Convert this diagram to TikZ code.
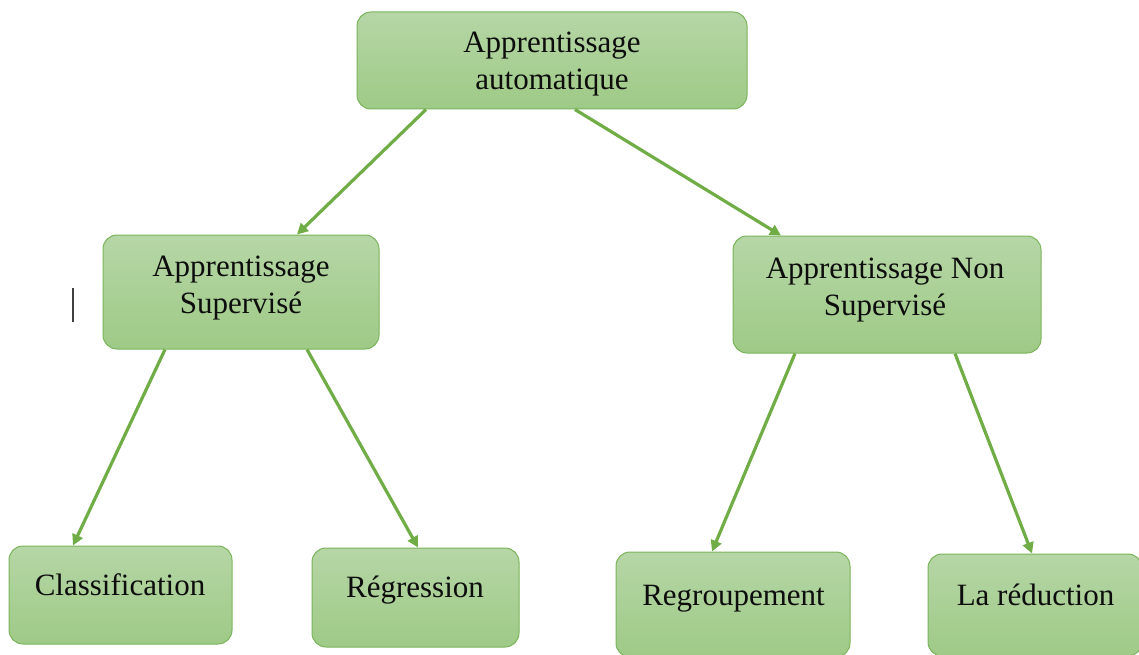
\documentclass[tikz,border=0pt]{standalone}
\usepackage{fontspec}
\setmainfont{Liberation Serif}
\usetikzlibrary{arrows.meta}
\definecolor{gtop}{RGB}{182,214,166}
\definecolor{gbot}{RGB}{158,202,134}
\definecolor{gline}{RGB}{122,180,90}
\definecolor{garrow}{RGB}{112,173,71}
\tikzset{
  box/.style={draw=gline, line width=1pt, rounded corners=14pt, top color=gtop, bottom color=gbot, inner sep=0pt},
  lbl/.style={font=\fontsize{31}{37}\selectfont, text=black!95, align=center, anchor=base, inner sep=0pt},
  arr/.style={draw=garrow, line width=3.2pt, -{Triangle[length=11pt,width=11pt]}}
}
\begin{document}
\begin{tikzpicture}[x=1pt,y=-1pt]
\useasboundingbox (0,0) rectangle (1139,655);
\clip (0,0) rectangle (1139,655);
\node[box, minimum width=390pt, minimum height=97pt] (top) at (552,60.5) {};
\node[box, minimum width=276pt, minimum height=114pt] (sup) at (241,292) {};
\node[box, minimum width=308pt, minimum height=117pt] (non) at (887,294.5) {};
\node[box, minimum width=223pt, minimum height=98pt] (cls) at (120.5,595) {};
\node[box, minimum width=207pt, minimum height=99pt] (reg) at (415.5,597.5) {};
\node[box, minimum width=234pt, minimum height=105pt] (grp) at (733,604.5) {};
\node[box, minimum width=214pt, minimum height=102pt] (red) at (1035,605) {};
\node[lbl] (ttop) at (552,90) {Apprentissage\\automatique};
\node[lbl] (tsup) at (241,313) {Apprentissage\\Supervisé};
\node[lbl] (tnon) at (885,315) {Apprentissage Non\\Supervisé};
\node[lbl] (tcls) at (120,595) {Classification};
\node[lbl] (treg) at (415,597) {Régression};
\node[lbl] (tgrp) at (733.5,605) {Regroupement};
\node[lbl] (tred) at (1035.5,605) {La réduction};
\draw[arr] (top.south -| 426,0) -- (sup.north -| 297,0);
\draw[arr] (top.south -| 575,0) -- (non.north -| 781,0);
\draw[arr] (sup.south -| 165,0) -- (cls.north -| 73,0);
\draw[arr] (sup.south -| 307,0) -- (reg.north -| 418,0);
\draw[arr] (non.south -| 795,0) -- (grp.north -| 712,0);
\draw[arr] (non.south -| 955,0) -- (red.north -| 1032,0);
\coordinate (c1) at (73,288);
\coordinate (c2) at (73,322);
\draw[black!75, line width=1.2pt] (c1) -- (c2);
\end{tikzpicture}
\end{document}
